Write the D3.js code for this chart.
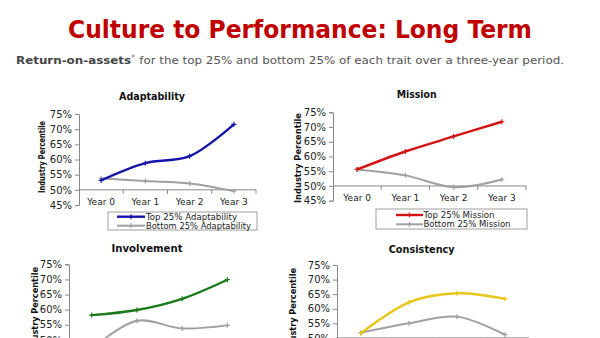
<!DOCTYPE html>
<html><head><meta charset="utf-8">
<script src="https://cdn.jsdelivr.net/npm/d3@7"></script>
<style>html,body{margin:0;padding:0;background:#fff;overflow:hidden}</style>
</head><body>
<svg id="chart" width="600" height="338"></svg>
<script>
// ---- data ----
const years = ["Year 0", "Year 1", "Year 2", "Year 3"];
const yTicks = [45, 50, 55, 60, 65, 70, 75];
const panelTitles = ["Adaptability", "Mission", "Involvement", "Consistency"];
const adaptTop = [53.1, 58.8, 61.1, 71.6];
const adaptBottom = [53.8, 52.9, 52.1, 49.6];
const missionTop = [55.6, 61.7, 66.8, 71.8];
const missionBottom = [55.6, 53.6, 49.6, 52.2];
const involveTop = [58.2, 59.9, 63.6, 69.9];
const involveBottom = [47.0, 56.3, 53.8, 54.8];
const consistTop = [51.6, 62.2, 65.3, 63.4];
const consistBottom = [51.8, 55.0, 57.3, 51.1];
const seriesValues = [
  [adaptTop, adaptBottom],
  [missionTop, missionBottom],
  [involveTop, involveBottom],
  [consistTop, consistBottom]
];

// ---- layout / style ----
const topColors = ["#1414a8", "#d41414", "#1a7a1a", "#e8c619"];
const grayColor = "#a0a0a0";
const layouts = [
  {x0:79, x1:256, yT:114, yB:205, tx:152, ty:100, tl:66, lx:42, ly:157, ll:72,
   box:[108,212,149,18], s0:117, s1:145, tX:146, r1:216.7, r2:225.7, w1:91, w2:105},
  {x0:333, x1:526, yT:112.3, yB:200.7, tx:416.7, ty:98, tl:40, lx:298, ly:158, ll:90,
   box:[376,209,151,20], s0:396, s1:423, tX:423.5, r1:215, r2:224.3, w1:71, w2:87},
  {x0:69, x1:250, yT:264.3, yB:355, tx:147, ty:252, tl:71, lx:35, ly:311, ll:88,
   box:[100,372,149,18], s0:109, s1:137, tX:138, r1:377, r2:386, w1:88, w2:102},
  {x0:337, x1:529, yT:265, yB:352.5, tx:421.7, ty:253, tl:66, lx:293, ly:312, ll:88,
   box:[380,370,151,20], s0:400, s1:427, tX:427.5, r1:376, r2:385, w1:88, w2:102}
];

const svg = d3.select("#chart");
const font = "DejaVu Sans, Verdana, sans-serif";

// header
svg.append("text").attr("x", 300).attr("y", 37.5).attr("text-anchor", "middle")
  .attr("font-family", font).attr("font-weight", "bold").attr("font-size", 24)
  .attr("fill", "#c00000").attr("textLength", 464).attr("lengthAdjust", "spacingAndGlyphs")
  .text("Culture to Performance: Long Term");

const sub = svg.append("text").attr("x", 16).attr("y", 64)
  .attr("font-family", font).attr("font-size", 11).attr("fill", "#555")
  .attr("textLength", 548).attr("lengthAdjust", "spacingAndGlyphs");
sub.append("tspan").attr("font-weight", "bold").attr("fill", "#444").text("Return-on-assets");
sub.append("tspan").attr("font-size", 8).attr("dy", -3).attr("fill", "#888").text("*");
sub.append("tspan").attr("dy", 3).text(" for the top 25% and bottom 25% of each trait over a three-year period.");

function plusPath(x, y, r) {
  return `M${x - r},${y}H${x + r}M${x},${y - r}V${y + r}`;
}

layouts.forEach((L, i) => {
  const g = svg.append("g");
  const x = d3.scaleBand().domain(years).range([L.x0, L.x1]).padding(0);
  const y = d3.scaleLinear().domain([45, 75]).range([L.yB, L.yT]);

  g.append("text").attr("x", L.tx).attr("y", L.ty).attr("text-anchor", "middle")
    .attr("font-family", font).attr("font-weight", "bold").attr("font-size", 10.5)
    .attr("fill", "#111").attr("textLength", L.tl).attr("lengthAdjust", "spacingAndGlyphs")
    .text(panelTitles[i]);

  g.append("text").attr("transform", `translate(${L.lx},${L.ly}) rotate(-90)`)
    .attr("text-anchor", "middle").attr("dy", "0.35em")
    .attr("font-family", font).attr("font-weight", "bold").attr("font-size", 9.5)
    .attr("fill", "#111").attr("textLength", L.ll).attr("lengthAdjust", "spacingAndGlyphs")
    .text("Industry Percentile");

  const yAxis = d3.axisLeft(y).tickValues(yTicks).tickSize(4).tickPadding(3)
    .tickFormat(d => d + "%");
  const ya = g.append("g").attr("transform", `translate(${L.x0},0)`).call(yAxis);
  ya.select(".domain").attr("stroke", "#888");
  ya.selectAll(".tick line").attr("stroke", "#888");
  ya.selectAll(".tick text").attr("font-family", font).attr("font-size", 10).attr("fill", "#222");

  const xAxis = d3.axisBottom(x).tickSize(0).tickPadding(9);
  const xa = g.append("g").attr("transform", `translate(0,${y(50)})`).call(xAxis);
  xa.select(".domain").attr("stroke", "#888").attr("d", `M${L.x0},0H${L.x1}`);
  xa.selectAll(".tick text").attr("font-family", font).attr("font-size", 9).attr("fill", "#222");
  xa.selectAll(".bt").data(years).enter().append("line")
    .attr("x1", d => x(d) + x.bandwidth()).attr("x2", d => x(d) + x.bandwidth())
    .attr("y1", 0).attr("y2", 4).attr("stroke", "#888");

  const line = d3.line()
    .x((d, j) => x(years[j]) + x.bandwidth() / 2)
    .y(d => y(d))
    .curve(d3.curveCatmullRom.alpha(0.5));

  const colors = [topColors[i], grayColor];
  const widths = [2.4, 2];
  [1, 0].forEach(k => {
    const vals = seriesValues[i][k];
    g.append("path").attr("d", line(vals)).attr("fill", "none")
      .attr("stroke", colors[k]).attr("stroke-width", widths[k]);
    g.selectAll(null).data(vals).enter().append("path")
      .attr("d", (d, j) => plusPath(x(years[j]) + x.bandwidth() / 2, y(d), 2.5))
      .attr("stroke", colors[k]).attr("stroke-width", 1.2);
  });

  const [bx, by, bw, bh] = L.box;
  const lg = g.append("g");
  lg.append("rect").attr("x", bx).attr("y", by).attr("width", bw).attr("height", bh)
    .attr("fill", "#fff").attr("stroke", "#888").attr("stroke-width", 0.8);
  const names = ["Top 25% " + panelTitles[i], "Bottom 25% " + panelTitles[i]];
  const rows = [L.r1, L.r2];
  const tw = [L.w1, L.w2];
  [0, 1].forEach(k => {
    lg.append("line").attr("x1", L.s0).attr("x2", L.s1).attr("y1", rows[k]).attr("y2", rows[k])
      .attr("stroke", colors[k]).attr("stroke-width", widths[k]);
    lg.append("path").attr("d", plusPath((L.s0 + L.s1) / 2, rows[k], 2.5))
      .attr("stroke", colors[k]).attr("stroke-width", 1.2);
    lg.append("text").attr("x", L.tX).attr("y", rows[k]).attr("dy", "0.35em")
      .attr("font-family", font).attr("font-size", 9).attr("fill", "#222")
      .attr("textLength", tw[k]).attr("lengthAdjust", "spacingAndGlyphs")
      .text(names[k]);
  });
});
</script>
</body></html>
